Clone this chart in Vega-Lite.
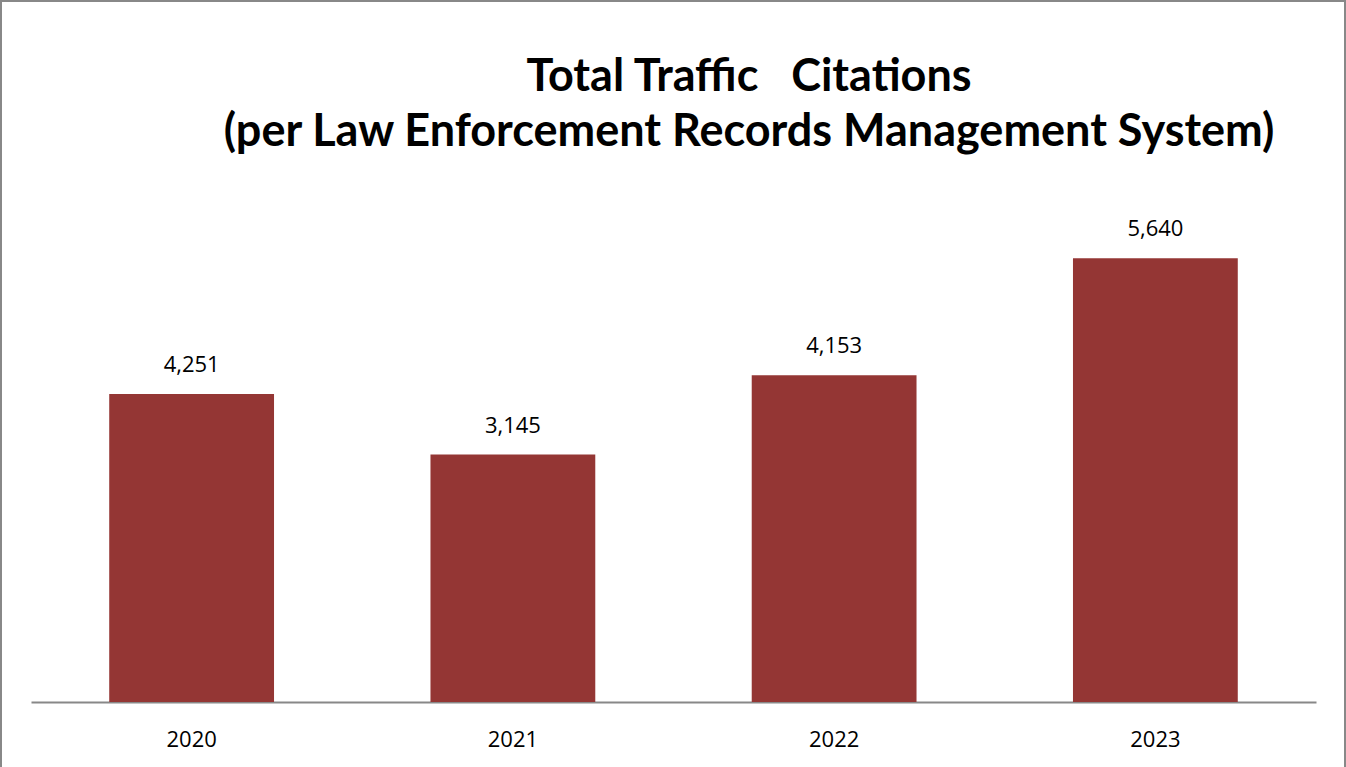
{
  "$schema": "https://vega.github.io/schema/vega-lite/v6.json",
  "width": 1344,
  "height": 767,
  "autosize": {"type": "none"},
  "padding": {"left": 1, "top": 1, "right": 1, "bottom": 0},
  "background": "white",
  "config": {
    "view": {"stroke": "#888888", "strokeWidth": 2},
    "font": "Open Sans"
  },
  "title": {
    "text": ["Total Traffic\u00a0\u00a0\u00a0Citations", "(per Law Enforcement Records Management System)"],
    "anchor": "middle",
    "frame": "group",
    "dx": 76,
    "offset": -190,
    "baseline": "alphabetic",
    "font": "Lato",
    "fontSize": 45,
    "fontWeight": "bold",
    "lineHeight": 55,
    "color": "#000000"
  },
  "data": {
    "values": [
      {"year": "2020", "value": 3915, "label": "4,251"},
      {"year": "2021", "value": 3145, "label": "3,145"},
      {"year": "2022", "value": 4153, "label": "4,153"},
      {"year": "2023", "value": 5640, "label": "5,640"}
    ]
  },
  "encoding": {
    "x": {
      "field": "year",
      "type": "nominal",
      "sort": null,
      "scale": {"range": [30, 1315], "paddingInner": 0.487, "paddingOuter": 0.2435},
      "axis": {
        "title": null,
        "orient": "bottom",
        "offset": -66,
        "domainColor": "#888888",
        "domainWidth": 2,
        "ticks": false,
        "labelAngle": 0,
        "labelFont": "Open Sans",
        "labelFontSize": 22,
        "labelColor": "#000000",
        "labelBaseline": "alphabetic",
        "labelPadding": 44,
        "grid": false
      }
    }
  },
  "layer": [
    {
      "mark": {"type": "bar", "color": "#943634"},
      "encoding": {
        "y": {
          "field": "value",
          "type": "quantitative",
          "scale": {"domain": [-839, 8911], "nice": false, "zero": false},
          "axis": null
        },
        "y2": {"datum": 0}
      }
    },
    {
      "mark": {"type": "text", "baseline": "alphabetic", "dy": -22, "fontSize": 22, "font": "Open Sans", "color": "#000000"},
      "encoding": {
        "y": {"field": "value", "type": "quantitative"},
        "text": {"field": "label"}
      }
    }
  ]
}
